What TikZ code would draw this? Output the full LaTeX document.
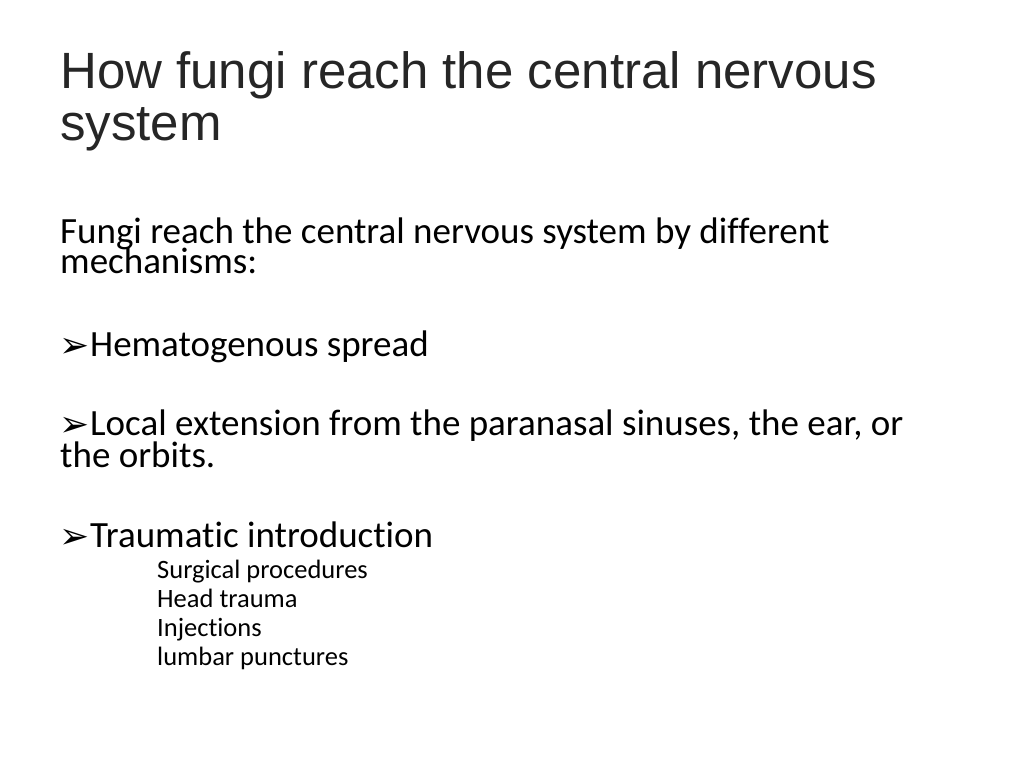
\documentclass[tikz,border=0pt]{standalone}
\usepackage{fontspec}
\setmainfont[Ligatures={NoCommon}]{Carlito}
\newfontfamily\titlefont{Liberation Sans}
\newfontfamily\symfont{DejaVu Sans}
\begin{document}
\begin{tikzpicture}[x=1pt,y=-1pt,
  ttl/.style={anchor=base west,inner sep=0pt,font=\titlefont\fontsize{51}{50}\selectfont,text=black!85},
  body/.style={anchor=base west,inner sep=0pt,font=\fontsize{37}{37}\selectfont},
  sub/.style={anchor=base west,inner sep=0pt,font=\fontsize{26.5}{27}\selectfont},
  bul/.style={anchor=base west,inner sep=0pt,font=\symfont\fontsize{36}{36}\selectfont}]
\useasboundingbox (0,0) rectangle (1024,768);
\node[ttl] (t1) at (60,88) {How fungi reach the central nervous};
\node[ttl] (t2) at (60,140) {system};
\node[body] (b1) at (60,243) {Fungi reach the central nervous system by different};
\node[body] (b2) at (60,273) {mechanisms:};
\node[bul] (k1) at (59,357) {➢};
\node[body] (h) at (90,356) {Hematogenous spread};
\node[bul] (k2) at (59,436) {➢};
\node[body] (l1) at (90,435) {Local extension from the paranasal sinuses, the ear, or};
\node[body] (l2) at (60,467) {the orbits.};
\node[bul] (k3) at (59,548) {➢};
\node[body] (tr) at (90,547) {Traumatic introduction};
\node[sub] (s1) at (157,578) {Surgical procedures};
\node[sub] (s2) at (157,607) {Head trauma};
\node[sub] (s3) at (157,636) {Injections};
\node[sub] (s4) at (157,665) {lumbar punctures};
\end{tikzpicture}
\end{document}
